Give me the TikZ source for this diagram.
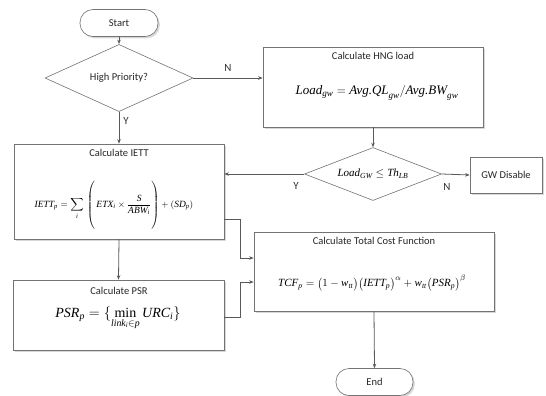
\documentclass[tikz,border=0pt]{standalone}
\usepackage{fontspec}
\usepackage{amsmath}
\setmainfont{Carlito}
\newfontfamily\tms{Liberation Serif}
\usetikzlibrary{shapes.geometric,shadows,arrows.meta}
\newcommand{\mi}[1]{\text{\tms\itshape #1}}
\newcommand{\mr}[1]{\text{\tms #1}}
\begin{document}
\begin{tikzpicture}[x=1pt,y=-1pt,
 line/.style={draw=black!65, line width=0.8pt},
 arr/.style={line, -{Stealth[length=4.5pt,width=3.5pt]}},
 boxst/.style={draw=black!55, fill=white, line width=0.6pt, drop shadow={shadow xshift=1.8pt, shadow yshift=-1.8pt, fill=black!30}, inner sep=0pt},
 term/.style={boxst, rounded corners=13pt, font=\fontsize{10.5}{12}\selectfont, text=black!85},
 dec/.style={diamond, draw=black!55, fill=white, line width=0.6pt, inner sep=0pt},
 ttl/.style={font=\fontsize{10.5}{12}\selectfont, text=black!85, anchor=north, inner sep=0pt},
 eqn/.style={inner sep=0pt},
 lbl/.style={font=\fontsize{11}{13}\selectfont, text=black!80, inner sep=0pt}]
\useasboundingbox[fill=white] (0,0) rectangle (546,396);
% nodes
\node[term, minimum width=78pt, minimum height=27pt] (start) at (119,23) {Start};
\node[dec, minimum width=148pt, minimum height=40pt, font=\fontsize{10.5}{12}\selectfont, text=black!85] (d1) at (119,78) {High Priority?};
\node[boxst, minimum width=220pt, minimum height=80pt] (hng) at (373,87) {};
\node[dec, minimum width=137pt, minimum height=53pt] (d2) at (373,174) {};
\node[boxst, minimum width=72pt, minimum height=36pt, font=\fontsize{10.5}{12}\selectfont, text=black!85] (gw) at (506,175) {GW Disable};
\node[boxst, minimum width=210pt, minimum height=95pt] (iett) at (119,191.5) {};
\node[boxst, minimum width=211pt, minimum height=70pt] (psr) at (118.5,315) {};
\node[boxst, minimum width=240pt, minimum height=79pt] (tcf) at (374,271.5) {};
\node[term, minimum width=77pt, minimum height=27pt] (end) at (374.5,382) {End};
% titles
\node[ttl] (thng) at (373,52) {Calculate HNG load};
\node[ttl] (tiett) at (119,149) {Calculate IETT};
\node[ttl] (ttcf) at (374,237) {Calculate Total Cost Function};
\node[ttl] (tpsr) at (119,287) {Calculate PSR};
% equations
\node[eqn, font=\fontsize{13}{15}\selectfont] (ehng) at (377,93) {$\mi{Load}_{\mi{gw}} = \mi{Avg.QL}_{\mi{gw}}/\mi{Avg.BW}_{\mi{gw}}$};
\node[eqn, font=\fontsize{11}{13}\selectfont] (ed2) at (373,174) {$\mi{Load}_{\mi{GW}} \leq \mi{Th}_{\mi{LB}}$};
\node[eqn, font=\fontsize{9.5}{11}\selectfont] (eiett) at (114,205) {$\displaystyle \mi{IETT}_{\mi{p}} = \sum_{\mi{i}}\, \left(\, \mi{ETX}_{\mi{i}} \times \frac{\mi{S}}{\mi{ABW}_{\mi{i}}} \rule[-22pt]{0pt}{48pt}\right) + (\mi{SD}_{\mi{p}})$};
\node[eqn, font=\fontsize{11}{13}\selectfont] (etcf) at (372,283) {$\mi{TCF}_{\mi{p}} = \bigl(1 - \mi{w}_{\mi{tt}}\bigr)\bigl(\mi{IETT}_{\mi{p}}\bigr)^{\alpha} + \mi{w}_{\mi{tt}}\bigl(\mi{PSR}_{\mi{p}}\bigr)^{\beta}$};
\node[eqn, font=\fontsize{14}{16}\selectfont] (epsr) at (118,318) {$\mi{PSR}_{\mi{p}} = \{ \mathop{\mr{min}}\limits_{\mi{link}_{\mi{i}} \in \mi{p}} \mi{URC}_{\mi{i}} \}$};
% bend points
\coordinate (ja) at (240,219);
\coordinate (jb) at (240,258);
\coordinate (jc) at (240,317);
\coordinate (jd) at (240,282);
% connectors
\draw[arr] (start) -- (d1);
\draw[arr] (d1.east) -- node[lbl, above=6pt] (ln1) {N} (d1.east -| hng.west);
\draw[arr] (d1.south) -- node[lbl, right=4pt, pos=0.3] (ly1) {Y} (iett.north);
\draw[arr] (hng.south) -- (d2.north);
\draw[arr] (d2.west) -- (d2.west -| iett.east);
\node[lbl] (ly2) at (296,186) {Y};
\draw[arr] (d2.east) -- (gw.west);
\node[lbl] (ln2) at (447,187) {N};
\draw[arr] (iett.south) -- (psr.north);
\draw[arr] (iett.east |- ja) -- (ja) -- (jb) -- (jb -| tcf.west);
\draw[arr] (psr.east |- jc) -- (jc) -- (jd) -- (jd -| tcf.west);
\draw[arr] (tcf.south) -- (end.north);
\end{tikzpicture}
\end{document}
